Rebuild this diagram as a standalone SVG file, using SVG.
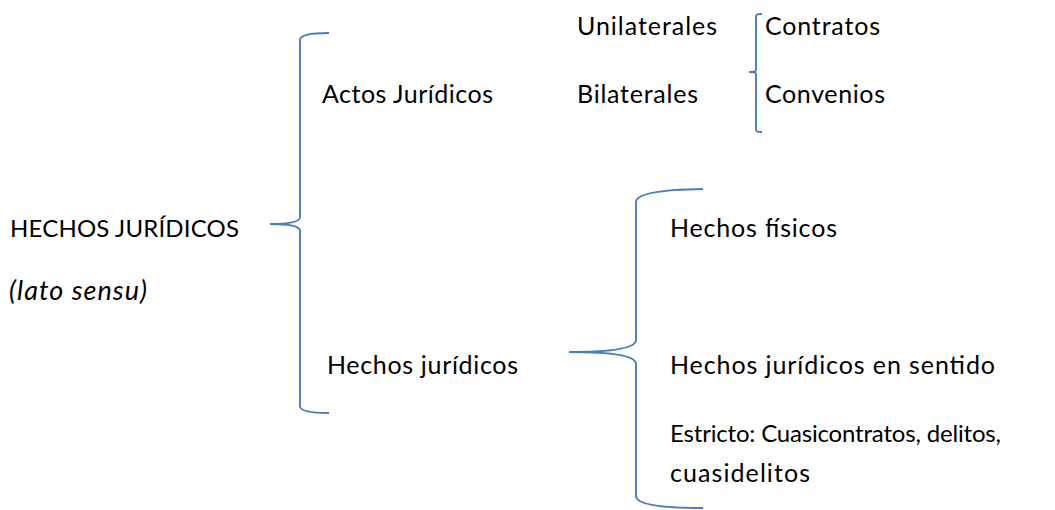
<svg xmlns="http://www.w3.org/2000/svg" width="1055" height="510" viewBox="0 0 1055 510">
<style>
text{font-family:Lato,"Liberation Sans",sans-serif;font-size:25px;fill:#000}
.it{font-style:italic;font-size:27px}
.sm{font-size:24px}
.br{fill:none;stroke:#4a7ebb;stroke-width:1.9}
</style>
<rect width="1055" height="510" fill="#fff"/>
<g id="connectors">
<path class="br" d="M329,33 Q300,33 300,40 V217 Q300,224 270,224 Q300,224 300,231 V406 Q300,413 329,413"/>
<path class="br" d="M762,14 Q756,14 756,16 V70 Q756,72 749,72 Q756,72 756,74 V130 Q756,132 762,132"/>
<path class="br" d="M703,189 Q636,190 636,202 V340 Q636,352 569,352 Q636,352 636,364 V496 Q636,508 703,508"/>
</g>
<g id="root"><text class="sm" x="10" y="237" textLength="229">HECHOS JURÍDICOS</text><text class="it" x="9" y="300" textLength="138">(lato sensu)</text></g>
<g id="actos"><text x="322" y="103" textLength="171">Actos Jurídicos</text></g>
<g id="unilaterales"><text x="577" y="35" textLength="140">Unilaterales</text></g>
<g id="bilaterales"><text x="577" y="103" textLength="121">Bilaterales</text></g>
<g id="contratos"><text x="765" y="35" textLength="115">Contratos</text></g>
<g id="convenios"><text x="765" y="103" textLength="120">Convenios</text></g>
<g id="hechos"><text x="327" y="374" textLength="191">Hechos jurídicos</text></g>
<g id="fisicos"><text x="670" y="237" textLength="167">Hechos físicos</text></g>
<g id="estricto"><text x="670" y="374" textLength="325">Hechos jurídicos en sentido</text><text class="sm" x="670" y="442" textLength="331">Estricto: Cuasicontratos, delitos,</text><text x="670" y="482" textLength="140">cuasidelitos</text></g>
</svg>
